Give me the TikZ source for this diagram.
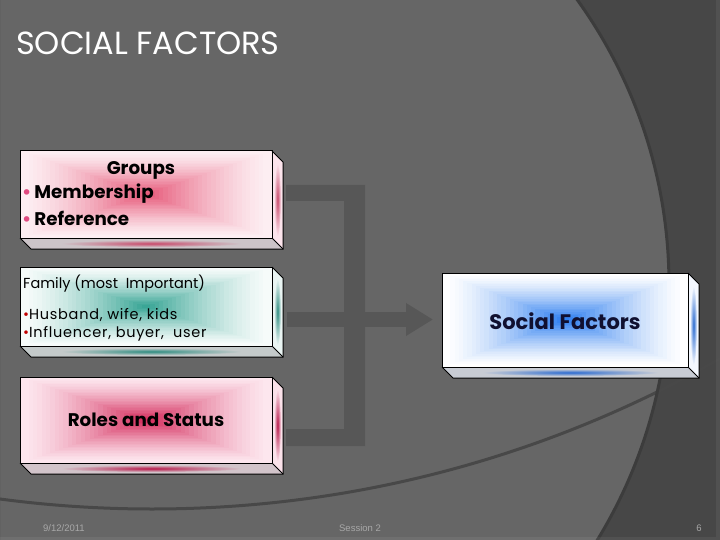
\documentclass[tikz,border=0pt]{standalone}
\usepackage{fontspec}
\setmainfont{Poppins}
\newfontfamily\footfont{Liberation Sans}
\usetikzlibrary{calc,arrows.meta}
\definecolor{bgmain}{HTML}{666666}
\definecolor{bgdark}{HTML}{474747}
\definecolor{arcline}{HTML}{3C3C3C}
\definecolor{arcline2}{HTML}{484848}
\definecolor{bracket}{HTML}{575757}
\definecolor{foot}{HTML}{A8A8A8}
\definecolor{pinkin}{HTML}{E65A7A}
\definecolor{pinkout}{HTML}{FDEEF2}
\definecolor{pinkstreak}{HTML}{C8486A}
\definecolor{pinkside}{HTML}{FCE4EC}
\definecolor{pinkbot}{HTML}{CCC4C8}
\definecolor{tealin}{HTML}{3AA696}
\definecolor{tealout}{HTML}{F6FBFA}
\definecolor{tealstreak}{HTML}{2E8C80}
\definecolor{tealside}{HTML}{EAF5F3}
\definecolor{tealbot}{HTML}{C4CACA}
\definecolor{crimin}{HTML}{D42C5C}
\definecolor{crimout}{HTML}{FDE6EE}
\definecolor{crimstreak}{HTML}{B8184A}
\definecolor{crimside}{HTML}{FBE2EA}
\definecolor{crimbot}{HTML}{D2C4CA}
\definecolor{bluein}{HTML}{2F7FF0}
\definecolor{blueout}{HTML}{FFFFFF}
\definecolor{bluestreak}{HTML}{2A6AD0}
\definecolor{blueside}{HTML}{F4F8FF}
\definecolor{bluebot}{HTML}{C8CCD4}
\definecolor{bulletpink}{HTML}{E04A80}
\definecolor{bulletred}{HTML}{C00000}
\definecolor{navytext}{HTML}{101030}
\newcommand\drawgbox[9]{%
  \node[inner sep=0pt, outer sep=0pt, minimum width={(#4-#2)*1pt},
        minimum height={(#5-#3)*1pt}, anchor=north west] (#1) at (#2,#3) {};
  \fill[#7] (#1.south west) rectangle (#1.north east);
  \foreach \i in {1,...,28}{%
    \pgfmathsetmacro\s{1-\i/29}%
    \pgfmathtruncatemacro\p{100*(\i/28)^1.4}%
    \fill[#6!\p!#7] ($(#1.center)!\s!(#1.south west)$) rectangle ($(#1.center)!\s!(#1.north east)$);
  }
  \begin{scope}
    \clip (#1.north east) -- ++(11,11) -- ($(#1.south east)+(11,11)$) -- (#1.south east) -- cycle;
    \fill[#9] ($(#1.north east)+(-1,-1)$) rectangle ($(#1.south east)+(12,12)$);
    \shade[inner color=#8, outer color=#9] ($(#1.east)+(5.5,5.5)$) ellipse [x radius=3.5, y radius={0.42*(#5-#3)}];
  \end{scope}
  \begin{scope}
    \clip (#1.south west) -- ++(11,11) -- ($(#1.south east)+(11,11)$) -- (#1.south east) -- cycle;
    \fill[botbase] ($(#1.south west)+(-1,-1)$) rectangle ($(#1.south east)+(12,12)$);
    \shade[inner color=#8, outer color=botbase] ($(#1.south)+(5.5,5.5)$) ellipse [x radius={0.36*(#4-#2)}, y radius=3.5];
  \end{scope}
  \draw[boxedge] (#1.south west) rectangle (#1.north east);
  \draw[boxedge] (#1.north east) -- ++(11,11) -- ($(#1.south east)+(11,11)$) -- ($(#1.south west)+(11,11)$) -- (#1.south west);
  \draw[boxedge] (#1.south east) -- ++(11,11);
}
\tikzset{
  boxedge/.style={black, line width=1pt, line join=miter},
  boldtext/.style={font=\bfseries\fontsize{18.3}{20}\selectfont, text=black, inner sep=0pt},
  famtext/.style={font=\fontsize{14.5}{16}\selectfont, text=black, inner sep=0pt, anchor=west},
  bultext/.style={font=\fontsize{14.5}{16}\selectfont\addfontfeatures{LetterSpace=5}, text=black, inner sep=0pt, anchor=west},
  foottext/.style={font=\footfont\fontsize{9.5}{11}\selectfont, text=foot, inner sep=0pt},
}
\begin{document}
\begin{tikzpicture}[x=1pt,y=-1pt]
\useasboundingbox (0,0) rectangle (720,540);
% background
\fill[bgmain] (0,0) rectangle (720,540);
\begin{scope}
  \clip (0,0) rectangle (720,540);
  \fill[bgdark, even odd rule] (0,0) rectangle (720,540) (180,285) circle [radius=489];
  \draw[arcline2, line width=3pt] (152,-637) circle [radius=1146];
  \draw[arcline, line width=3pt] (180,285) circle [radius=489];
  \fill[white, opacity=0.06] (716,0) rectangle (720,540);
  \fill[white, opacity=0.06] (0,537) rectangle (716,540);
\end{scope}
% title
\node[anchor=west, inner sep=0pt, text=white, font=\fontsize{32}{35}\selectfont] (title) at (16,43) {SOCIAL FACTORS};
% bracket and arrow
\fill[bracket] (286,185) -- (365,185) -- (365,446) -- (286,446) -- (286,429) -- (344,429) -- (344,201) -- (286,201) -- cycle;
% boxes
\colorlet{botbase}{pinkbot}
\drawgbox{groups}{20}{151}{272}{238}{pinkin}{pinkout}{pinkstreak}{pinkside}
\colorlet{botbase}{tealbot}
\drawgbox{family}{20}{267}{272}{346}{tealin}{tealout}{tealstreak}{tealside}
\colorlet{botbase}{crimbot}
\drawgbox{roles}{20}{377}{272}{463}{crimin}{crimout}{crimstreak}{crimside}
\colorlet{botbase}{bluebot}
\drawgbox{social}{442}{273}{688}{367}{bluein}{blueout}{bluestreak}{blueside}
% arrow
\coordinate (arrstart) at (287,319.5);
\draw[bracket, line width=15pt, -{Triangle[length=27pt, width=31pt]}, shorten >=9pt] (arrstart) -- (arrstart -| social.west);
% texts
\node[boldtext] (groupst) at (141,170) {Groups};
\node[boldtext, anchor=west] (memb) at (22,194) {\textcolor{bulletpink}{•}\,Membership};
\node[boldtext, anchor=west] (ref) at (22,218) {\textcolor{bulletpink}{•}\,Reference};
\node[famtext] (famt) at (23,284) {Family (most\ \ Important)};
\node[bultext] (hus) at (23,315) {\textcolor{bulletred}{•}Husband, wife, kids};
\node[bultext] (infl) at (23,334) {\textcolor{bulletred}{•}Influencer, buyer,\ \ user};
\node[boldtext] (rolest) at (146,420) {Roles and Status};
\node[boldtext, text=navytext, font=\bfseries\fontsize{21}{23}\selectfont] (socialt) at (565,321) {Social Factors};
% footer
\node[foottext, anchor=west] (date) at (43,528) {9/12/2011};
\node[foottext] (sess) at (360,528) {Session 2};
\node[foottext] (pnum) at (699,528) {6};
\end{tikzpicture}
\end{document}
